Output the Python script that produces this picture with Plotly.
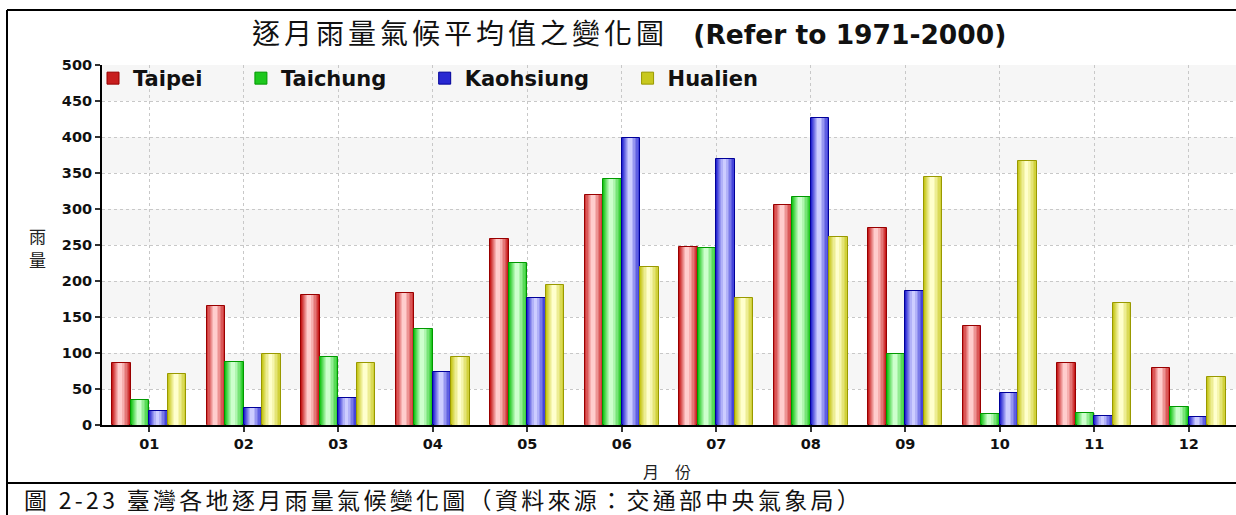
import plotly.graph_objects as go

months = ["01", "02", "03", "04", "05", "06", "07", "08", "09", "10", "11", "12"]
taipei = [86, 165, 180, 183, 258, 319, 247, 305, 274, 138, 86, 79]
taichung = [35, 88, 94, 134, 225, 342, 246, 316, 98, 15, 17, 25]
kaohsiung = [19, 23, 38, 73, 177, 399, 370, 427, 186, 45, 13, 11]
hualien = [71, 99, 86, 95, 195, 219, 177, 261, 345, 367, 170, 67]

series_names = ["Taipei", "Taichung", "Kaohsiung", "Hualien"]
series_values = [taipei, taichung, kaohsiung, hualien]
y_ticks = [0, 50, 100, 150, 200, 250, 300, 350, 400, 450, 500]

# styles: (outline, base, highlight)
styles = [
    ("#990000", (200, 30, 30), (255, 205, 205)),
    ("#009900", (30, 200, 30), (205, 255, 205)),
    ("#000099", (40, 40, 210), (205, 205, 255)),
    ("#999900", (200, 200, 30), (255, 255, 205)),
]

W, H = 1236, 515
L, R, T, B = 102, 0, 65, 90
PW, PH = W - L - R, H - T - B

fig = go.Figure()
bw = 0.197
fracs = [1.0, 0.88, 0.76, 0.62, 0.48, 0.34, 0.2]
pad = "\u00a0" * 4 + "\u2009"
for i, (name, vals) in enumerate(zip(series_names, series_values)):
    line_c, base, light = styles[i]
    xs = [m + (i - 1.5) * bw for m in range(len(months))]
    n = len(fracs)
    for k, f in enumerate(fracs):
        t = k / (n - 1)
        col = "rgb(%d,%d,%d)" % tuple(round(base[c] + (light[c] - base[c]) * t) for c in range(3))
        shift = -0.06 * bw * t
        fig.add_trace(go.Bar(
            x=[x + shift for x in xs], y=vals, width=bw * f,
            name=name + pad, legendgroup=name, showlegend=(k == 0),
            marker=dict(color=col, line=dict(color=line_c if k == 0 else col, width=1 if k == 0 else 0)),
            hoverinfo="skip",
        ))

# alternating background bands
for lo in y_ticks[1:-1:2]:
    fig.add_shape(type="rect", xref="paper", yref="y", x0=0, x1=1, y0=lo, y1=lo + 50,
                  fillcolor="#f6f6f6", line_width=0, layer="below")

def px(xp):
    return (xp - L) / PW

def py(yp):
    return (H - B - yp) / PH

# frame lines
frame = dict(color="black", width=2)
fig.add_shape(type="line", xref="paper", yref="paper", x0=px(7), x1=px(1240), y0=py(10), y1=py(10), line=frame)
fig.add_shape(type="line", xref="paper", yref="paper", x0=px(7), x1=px(7), y0=py(10), y1=py(520), line=frame)
fig.add_shape(type="line", xref="paper", yref="paper", x0=px(7), x1=px(1240), y0=py(483), y1=py(483), line=frame)

cjk = "Noto Sans CJK TC"
fig.add_annotation(xref="paper", yref="paper", x=px(629), y=py(32), xanchor="center", yanchor="middle",
                   text='<span style="font-family:Noto Sans CJK TC;font-size:28px;letter-spacing:4px">逐月雨量氣候平均值之變化圖</span>   <b>(Refer to 1971-2000)</b>',
                   showarrow=False, font=dict(family="DejaVu Sans", size=26.5, color="#111"))
fig.add_annotation(xref="paper", yref="paper", x=px(37), y=py(235), xanchor="center", yanchor="middle",
                   text="雨", showarrow=False, font=dict(family=cjk, size=17, color="#222"))
fig.add_annotation(xref="paper", yref="paper", x=px(37), y=py(259), xanchor="center", yanchor="middle",
                   text="量", showarrow=False, font=dict(family=cjk, size=17, color="#222"))
fig.add_annotation(xref="paper", yref="paper", x=px(667), y=py(470.5), xanchor="center", yanchor="middle",
                   text="月　份", showarrow=False, font=dict(family=cjk, size=16, color="#222"))
fig.add_annotation(xref="paper", yref="paper", x=px(22), y=py(498.5), xanchor="left", yanchor="middle",
                   text='<span style="letter-spacing:3.3px">圖 2-23 臺灣各地逐月雨量氣候變化圖（資料來源：交通部中央氣象局）</span>',
                   showarrow=False, font=dict(family=cjk, size=23, color="#111"))

tickfont = dict(family="DejaVu Sans", size=14.5, color="#111")
fig.update_layout(
    width=W, height=H,
    margin=dict(l=L, r=R, t=T, b=B, pad=0),
    paper_bgcolor="white", plot_bgcolor="white",
    barmode="overlay", bargap=0,
    showlegend=True,
    legend=dict(orientation="h", x=-9 / PW, y=1 + 7 / PH, xanchor="left", yanchor="top",
                bgcolor="rgba(0,0,0,0)", font=dict(family="DejaVu Sans", size=21, color="#111", weight="bold"),
                traceorder="normal", itemclick=False),
    font=dict(family="DejaVu Sans"),
)
fig.update_xaxes(range=[-0.5, 11.5], tickmode="array", tickvals=list(range(len(months))), ticktext=["<b>%s</b>" % m for m in months],
                 ticks="outside", ticklen=5, tickcolor="#333", tickwidth=2,
                 showgrid=True, gridcolor="#c8c8c8", griddash="dot", gridwidth=1,
                 showline=True, linecolor="black", linewidth=2, tickfont=tickfont, zeroline=False, fixedrange=True)
fig.update_yaxes(range=[0, 500], tickmode="array", tickvals=y_ticks, ticktext=["<b>%d</b>" % v for v in y_ticks],
                 ticks="outside", ticklen=5, tickcolor="#333", tickwidth=2,
                 showgrid=True, gridcolor="#c8c8c8", griddash="dot", gridwidth=1,
                 showline=True, linecolor="black", linewidth=2, tickfont=tickfont, zeroline=False, fixedrange=True)

fig.write_html("out.html", config={"displayModeBar": False},
               post_script="document.body.style.margin='0';document.body.style.overflow='hidden';")
